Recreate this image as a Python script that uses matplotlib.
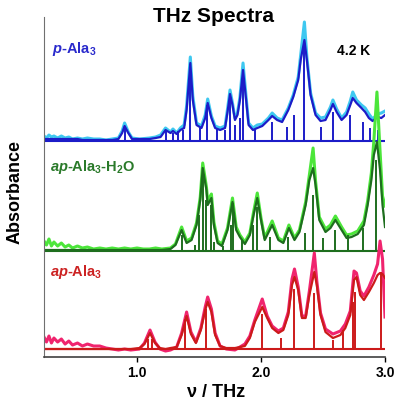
import matplotlib
matplotlib.use("Agg")
import matplotlib.pyplot as plt

# THz spectra of three Ala3 forms at 4.2 K
# each panel: measured spectrum (light), fitted curve (dark), fitted modes (sticks)

p_freq = [0.25, 0.27, 0.29, 0.31, 0.33, 0.36, 0.39, 0.42, 0.45, 0.48, 0.52, 0.56,
          0.60, 0.65, 0.70, 0.75, 0.80, 0.85, 0.88, 0.90, 0.93, 0.96, 1.02, 1.10,
          1.15, 1.19, 1.23, 1.27, 1.29, 1.32, 1.35, 1.38, 1.40, 1.43, 1.45, 1.48,
          1.52, 1.55, 1.57, 1.60, 1.63, 1.67, 1.71, 1.73, 1.75, 1.77, 1.79, 1.81,
          1.83, 1.855, 1.88, 1.90, 1.935, 1.97, 2.01, 2.06, 2.09, 2.13, 2.17, 2.22,
          2.26, 2.30, 2.32, 2.35, 2.37, 2.40, 2.44, 2.48, 2.52, 2.56, 2.58, 2.61,
          2.65, 2.69, 2.72, 2.74, 2.77, 2.81, 2.84, 2.87, 2.90, 2.94, 2.97, 3.00]
p_fit = [0.02, 0.02, 0.02, 0.02, 0.02, 0.02, 0.02, 0.02, 0.02, 0.02, 0.02, 0.01,
         0.01, 0.01, 0.01, 0.01, 0.01, 0.02, 0.08, 0.15, 0.08, 0.02, 0.02, 0.02,
         0.03, 0.04, 0.11, 0.08, 0.10, 0.07, 0.11, 0.13, 0.31, 0.78, 0.41, 0.16,
         0.13, 0.23, 0.38, 0.23, 0.13, 0.11, 0.13, 0.29, 0.47, 0.36, 0.21, 0.26,
         0.41, 0.71, 0.41, 0.16, 0.11, 0.13, 0.15, 0.21, 0.25, 0.21, 0.19, 0.31,
         0.44, 0.61, 0.81, 1.01, 0.81, 0.46, 0.26, 0.20, 0.21, 0.31, 0.37, 0.29,
         0.21, 0.26, 0.36, 0.43, 0.38, 0.33, 0.29, 0.23, 0.20, 0.24, 0.23, 0.26]
p_meas = [0.05, 0.03, 0.06, 0.04, 0.05, 0.03, 0.05, 0.03, 0.04, 0.02, 0.03, 0.02,
          0.03, 0.02, 0.02, 0.01, 0.02, 0.03, 0.10, 0.18, 0.09, 0.03, 0.02, 0.03,
          0.04, 0.06, 0.13, 0.09, 0.12, 0.08, 0.13, 0.16, 0.35, 0.84, 0.45, 0.18,
          0.15, 0.26, 0.42, 0.25, 0.15, 0.13, 0.15, 0.32, 0.51, 0.38, 0.23, 0.28,
          0.44, 0.78, 0.44, 0.18, 0.13, 0.16, 0.17, 0.23, 0.28, 0.23, 0.21, 0.33,
          0.46, 0.64, 0.86, 1.19, 0.84, 0.48, 0.28, 0.23, 0.24, 0.34, 0.41, 0.32,
          0.23, 0.29, 0.40, 0.49, 0.41, 0.36, 0.33, 0.27, 0.22, 0.27, 0.28, 0.30]
p_modes = [0.90, 1.23, 1.29, 1.33, 1.37, 1.43, 1.51, 1.565, 1.645, 1.71, 1.75, 1.79,
           1.83, 1.855, 1.95, 2.09, 2.21, 2.27, 2.35, 2.48, 2.58, 2.72, 2.82, 2.88, 2.94]
p_mode_amp = [0.13, 0.10, 0.08, 0.10, 0.11, 0.77, 0.13, 0.36, 0.13, 0.11, 0.46, 0.16,
              0.23, 0.69, 0.11, 0.19, 0.14, 0.26, 0.96, 0.14, 0.29, 0.26, 0.19, 0.13, 0.11]

h_freq = [0.25, 0.27, 0.29, 0.31, 0.33, 0.36, 0.39, 0.42, 0.45, 0.48, 0.52, 0.56,
          0.60, 0.65, 0.70, 0.75, 0.80, 0.85, 0.90, 0.95, 1.00, 1.05, 1.10, 1.15,
          1.20, 1.27, 1.31, 1.36, 1.40, 1.44, 1.48, 1.51, 1.53, 1.56, 1.57, 1.60,
          1.62, 1.65, 1.685, 1.73, 1.77, 1.80, 1.83, 1.87, 1.91, 1.94, 1.97, 2.00,
          2.03, 2.09, 2.14, 2.18, 2.225, 2.27, 2.31, 2.36, 2.39, 2.42, 2.44, 2.47,
          2.52, 2.56, 2.60, 2.65, 2.69, 2.73, 2.78, 2.83, 2.86, 2.89, 2.91, 2.935,
          2.96, 2.98, 3.00]
h_fit = [0.01, 0.01, 0.01, 0.01, 0.01, 0.01, 0.01, 0.01, 0.01, 0.01, 0.01, 0.01,
         0.01, 0.01, 0.01, 0.01, 0.01, 0.01, 0.01, 0.01, 0.01, 0.01, 0.01, 0.01,
         0.01, 0.02, 0.06, 0.21, 0.08, 0.11, 0.26, 0.51, 0.83, 0.61, 0.46, 0.53,
         0.26, 0.08, 0.05, 0.21, 0.49, 0.21, 0.14, 0.07, 0.16, 0.36, 0.53, 0.31,
         0.11, 0.26, 0.11, 0.08, 0.23, 0.11, 0.19, 0.46, 0.71, 0.83, 0.66, 0.31,
         0.19, 0.23, 0.31, 0.21, 0.13, 0.14, 0.17, 0.26, 0.46, 0.71, 0.96, 1.09,
         0.81, 0.46, 0.24]
h_meas = [0.10, 0.06, 0.12, 0.05, 0.09, 0.05, 0.08, 0.04, 0.06, 0.03, 0.05, 0.03,
          0.04, 0.02, 0.03, 0.02, 0.03, 0.02, 0.03, 0.02, 0.03, 0.02, 0.02, 0.03,
          0.02, 0.03, 0.07, 0.24, 0.10, 0.13, 0.28, 0.54, 0.88, 0.64, 0.50, 0.57,
          0.29, 0.10, 0.07, 0.23, 0.53, 0.24, 0.16, 0.09, 0.18, 0.39, 0.58, 0.33,
          0.13, 0.30, 0.13, 0.10, 0.26, 0.13, 0.21, 0.49, 0.76, 1.03, 0.70, 0.34,
          0.22, 0.26, 0.35, 0.24, 0.16, 0.17, 0.20, 0.30, 0.50, 0.78, 1.10, 1.59,
          1.00, 0.55, 0.45]
h_modes = [1.36, 1.47, 1.50, 1.53, 1.56, 1.60, 1.62, 1.69, 1.76, 1.775, 1.85, 1.935,
           1.97, 2.07, 2.22, 2.355, 2.42, 2.50, 2.60, 2.70, 2.82, 2.925, 2.97]
h_mode_amp = [0.16, 0.06, 0.36, 0.81, 0.51, 0.46, 0.09, 0.05, 0.26, 0.48, 0.11, 0.26,
              0.44, 0.14, 0.14, 0.18, 0.56, 0.13, 0.21, 0.16, 0.23, 0.91, 0.06]

a_freq = [0.25, 0.27, 0.29, 0.31, 0.33, 0.36, 0.39, 0.42, 0.45, 0.48, 0.52, 0.56,
          0.60, 0.65, 0.70, 0.75, 0.80, 0.85, 0.90, 0.95, 1.02, 1.06, 1.105, 1.145,
          1.185, 1.23, 1.27, 1.32, 1.36, 1.40, 1.435, 1.475, 1.515, 1.55, 1.57, 1.60,
          1.63, 1.67, 1.72, 1.79, 1.83, 1.87, 1.91, 1.95, 2.01, 2.05, 2.09, 2.14,
          2.18, 2.22, 2.25, 2.27, 2.30, 2.33, 2.36, 2.39, 2.43, 2.45, 2.48, 2.52,
          2.58, 2.64, 2.68, 2.72, 2.75, 2.77, 2.80, 2.83, 2.87, 2.91, 2.94, 2.96,
          2.98, 3.00]
a_fit = [0.00, 0.00, 0.00, 0.00, 0.00, 0.00, 0.00, 0.00, 0.00, 0.00, 0.00, 0.00,
         0.00, 0.00, 0.00, 0.00, 0.00, 0.00, 0.00, 0.00, 0.01, 0.05, 0.16, 0.06,
         0.01, 0.00, 0.01, 0.02, 0.14, 0.33, 0.15, 0.06, 0.19, 0.39, 0.47, 0.37,
         0.14, 0.03, 0.01, 0.01, 0.02, 0.03, 0.11, 0.27, 0.42, 0.31, 0.21, 0.16,
         0.19, 0.34, 0.64, 0.72, 0.59, 0.31, 0.31, 0.54, 0.77, 0.64, 0.34, 0.17,
         0.11, 0.14, 0.21, 0.34, 0.69, 0.72, 0.54, 0.49, 0.57, 0.66, 0.74, 0.76,
         0.75, 0.71]
a_meas = [0.12, 0.07, 0.13, 0.06, 0.11, 0.07, 0.10, 0.05, 0.08, 0.04, 0.06, 0.03,
          0.05, 0.03, 0.03, 0.01, 0.00, -0.01, 0.00, -0.01, 0.00, 0.06, 0.19, 0.07,
          0.00, -0.02, -0.01, 0.02, 0.16, 0.37, 0.17, 0.07, 0.21, 0.42, 0.52, 0.40,
          0.16, 0.03, 0.00, -0.01, 0.02, 0.05, 0.13, 0.29, 0.50, 0.33, 0.23, 0.18,
          0.21, 0.37, 0.70, 0.80, 0.62, 0.33, 0.33, 0.58, 0.96, 0.68, 0.36, 0.20,
          0.15, 0.18, 0.25, 0.38, 0.78, 0.76, 0.58, 0.53, 0.62, 0.74, 0.85, 1.08,
          0.90, 0.32]
a_modes = [1.09, 1.12, 1.39, 1.56, 2.01, 2.16, 2.27, 2.43, 2.58, 2.66, 2.74, 2.76, 2.97]
a_mode_amp = [0.10, 0.10, 0.30, 0.40, 0.35, 0.11, 0.60, 0.56, 0.09, 0.19, 0.47, 0.57, 0.77]

plt.rcParams['font.family'] = ['Liberation Sans', 'DejaVu Sans']
plt.rcParams['font.weight'] = 'bold'
plt.rcParams['mathtext.fontset'] = 'custom'
plt.rcParams['mathtext.rm'] = 'Liberation Sans:bold'
plt.rcParams['mathtext.it'] = 'Liberation Sans:italic:bold'
plt.rcParams['mathtext.bf'] = 'Liberation Sans:bold'

fig = plt.figure(figsize=(3.95, 4.03), dpi=100)
ax = fig.add_axes([0.1114, 0.1141, 0.8633, 0.8437])

panels = [
    (p_freq, p_fit, p_meas, p_modes, p_mode_amp, 2.16, '#1c1cc8', '#3ec8f0'),
    (h_freq, h_fit, h_meas, h_modes, h_mode_amp, 1.06, '#1e6e1e', '#4ce63a'),
    (a_freq, a_fit, a_meas, a_modes, a_mode_amp, 0.08, '#cc1a1a', '#f0246e'),
]
for freq, fit, meas, modes, amp, off, dark, light in panels:
    ax.plot(freq, [v + off for v in meas], color=light, lw=2.2)
    ax.hlines(off, 0.25, 3.0, color=dark, lw=1.5)
    ax.vlines(modes, off, [v + off for v in amp], color=dark, lw=1.4)
    ax.plot(freq, [v + off for v in fit], color=dark, lw=1.6)

ax.text(0.315, 3.04, r'$\mathit{p}$-Ala$_3$', color='#2a2acc', fontsize=10.5)
ax.text(0.30, 1.86, r'$\mathit{ap}$-Ala$_3$-H$_2$O', color='#2a7a2a', fontsize=10.5)
ax.text(0.30, 0.81, r'$\mathit{ap}$-Ala$_3$', color='#cc2222', fontsize=10.5)
ax.text(2.75, 3.02, '4.2 K', ha='center', fontsize=10)

ax.set_xlim(0.25, 3.0)
ax.set_ylim(0, 3.4)
ax.set_xticks([1.0, 2.0, 3.0])
ax.set_xticklabels(['1.0', '2.0', '3.0'])
ax.set_yticks([])
ax.tick_params(axis='x', direction='out', length=3.5, width=1, pad=3, labelsize=10)
ax.spines['top'].set_visible(False)
ax.spines['right'].set_visible(False)
ax.spines['left'].set_color('#707070')
ax.spines['bottom'].set_color('#404040')
ax.spines['bottom'].set_linewidth(1.2)

fig.text(0.54, 0.945, 'THz Spectra', ha='center', va='baseline', fontsize=15)
fig.text(15 / 395, 1 - 192 / 403, 'Absorbance', rotation=90, ha='center',
         va='center', fontsize=13)
fig.text(216 / 395, 0.015, '\u03bd / THz', ha='center', va='baseline', fontsize=13)

fig.savefig('out.png', dpi=100)
